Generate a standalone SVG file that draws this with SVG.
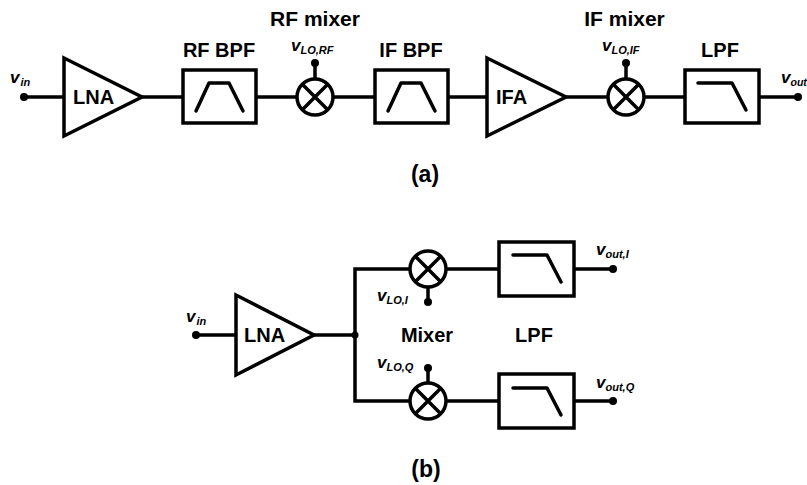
<svg xmlns="http://www.w3.org/2000/svg" width="807" height="485" viewBox="0 0 807 485">
<style>
.s{fill:none;stroke:#000;stroke-width:3.5}
.b{fill:#fff;stroke:#000;stroke-width:3.5}
.w{fill:none;stroke:#000;stroke-width:3.5;stroke-linecap:round;stroke-linejoin:round}
.d{fill:#000}
text{font-family:"Liberation Sans",Arial,sans-serif;font-weight:bold;fill:#000}
.l{font-size:20px}
.m{font-size:21px}
.p{font-size:23px}
.c{text-anchor:middle}
.v{font-style:italic;font-size:17px}
.v tspan{font-size:11px}
</style>
<defs>
<g id="mix"><circle class="b" r="18"/><path class="s" d="M-12.7-12.7 12.7 12.7M-12.7 12.7 12.7-12.7"/></g>
<path id="lp" class="w" d="M0 0H34L48 27"/>
<path id="bp" class="w" d="M0 28 13 0H33L47 28"/>
</defs>
<g id="connectors" class="s">
<path d="M24 97H64M142 97H183M256 97H297M333 97H375M448 97H487M566 97H608M644 97H685M759 97H798M315 79V63M626 79V63"/>
<path d="M196 335H236M314 335H355M410 269H355V401H410M446 269H499M446 401H499M574 269H613M574 401H613M428 287V302M428 383V368"/>
</g>
<g id="a-vin"><circle class="d" cx="24" cy="97" r="4"/><text class="v" x="10" y="83">v<tspan dx="1" dy="3">in</tspan></text></g>
<g id="a-lna"><path class="b" d="M64 58V136L142 97Z"/><text class="l" x="73" y="104">LNA</text></g>
<g id="a-rfbpf"><rect class="b" x="183" y="70" width="73" height="53"/><use href="#bp" x="196" y="83"/><text class="l c" x="219" y="57">RF BPF</text></g>
<g id="a-rfmixer"><use href="#mix" x="315" y="97"/><circle class="d" cx="315" cy="63" r="4"/><text class="m c" x="315" y="26">RF mixer</text><text class="v" x="291" y="51">v<tspan dy="3">LO,RF</tspan></text></g>
<g id="a-ifbpf"><rect class="b" x="375" y="70" width="73" height="53"/><use href="#bp" x="388" y="83"/><text class="l c" x="411" y="57">IF BPF</text></g>
<g id="a-ifa"><path class="b" d="M487 58V136L566 97Z"/><text class="l" x="496" y="104">IFA</text></g>
<g id="a-ifmixer"><use href="#mix" x="626" y="97"/><circle class="d" cx="626" cy="63" r="4"/><text class="m c" x="624.500" y="26">IF mixer</text><text class="v" x="602" y="51">v<tspan dy="3">LO,IF</tspan></text></g>
<g id="a-lpf"><rect class="b" x="685" y="70" width="74" height="53"/><use href="#lp" x="698" y="83"/><text class="l c" x="720" y="57">LPF</text></g>
<g id="a-vout"><circle class="d" cx="798" cy="97" r="4"/><text class="v" x="781" y="83">v<tspan dy="3" style="font-size:10.500px">out</tspan></text></g>
<text class="p c" x="425" y="182">(a)</text>
<g id="b-vin"><circle class="d" cx="196" cy="335" r="4"/><text class="v" x="186" y="322">v<tspan dx="1" dy="3">in</tspan></text></g>
<g id="b-lna"><path class="b" d="M236 295V375L314 335Z"/><text class="l" x="244" y="342">LNA</text></g>
<circle id="b-node" class="d" cx="355" cy="335" r="3.500"/>
<g id="b-mixi"><use href="#mix" x="428" y="269"/><circle class="d" cx="428" cy="302" r="4"/><text class="v" x="377" y="301">v<tspan dy="3">LO,I</tspan></text></g>
<g id="b-mixq"><use href="#mix" x="428" y="401"/><circle class="d" cx="428" cy="368" r="4"/><text class="v" x="377" y="368">v<tspan dy="3">LO,Q</tspan></text></g>
<text class="l c" x="427" y="342">Mixer</text>
<g id="b-lpfi"><rect class="b" x="499" y="242" width="75" height="54"/><use href="#lp" x="513" y="255"/></g>
<g id="b-lpfq"><rect class="b" x="499" y="374" width="75" height="54"/><use href="#lp" x="513" y="388"/></g>
<text class="l c" x="534" y="342">LPF</text>
<g id="b-vouti"><circle class="d" cx="613" cy="269" r="4"/><text class="v" x="596" y="255">v<tspan dy="3">out,I</tspan></text></g>
<g id="b-voutq"><circle class="d" cx="613" cy="401" r="4"/><text class="v" x="596" y="388">v<tspan dy="3">out,Q</tspan></text></g>
<text class="p c" x="426" y="477">(b)</text>
</svg>
